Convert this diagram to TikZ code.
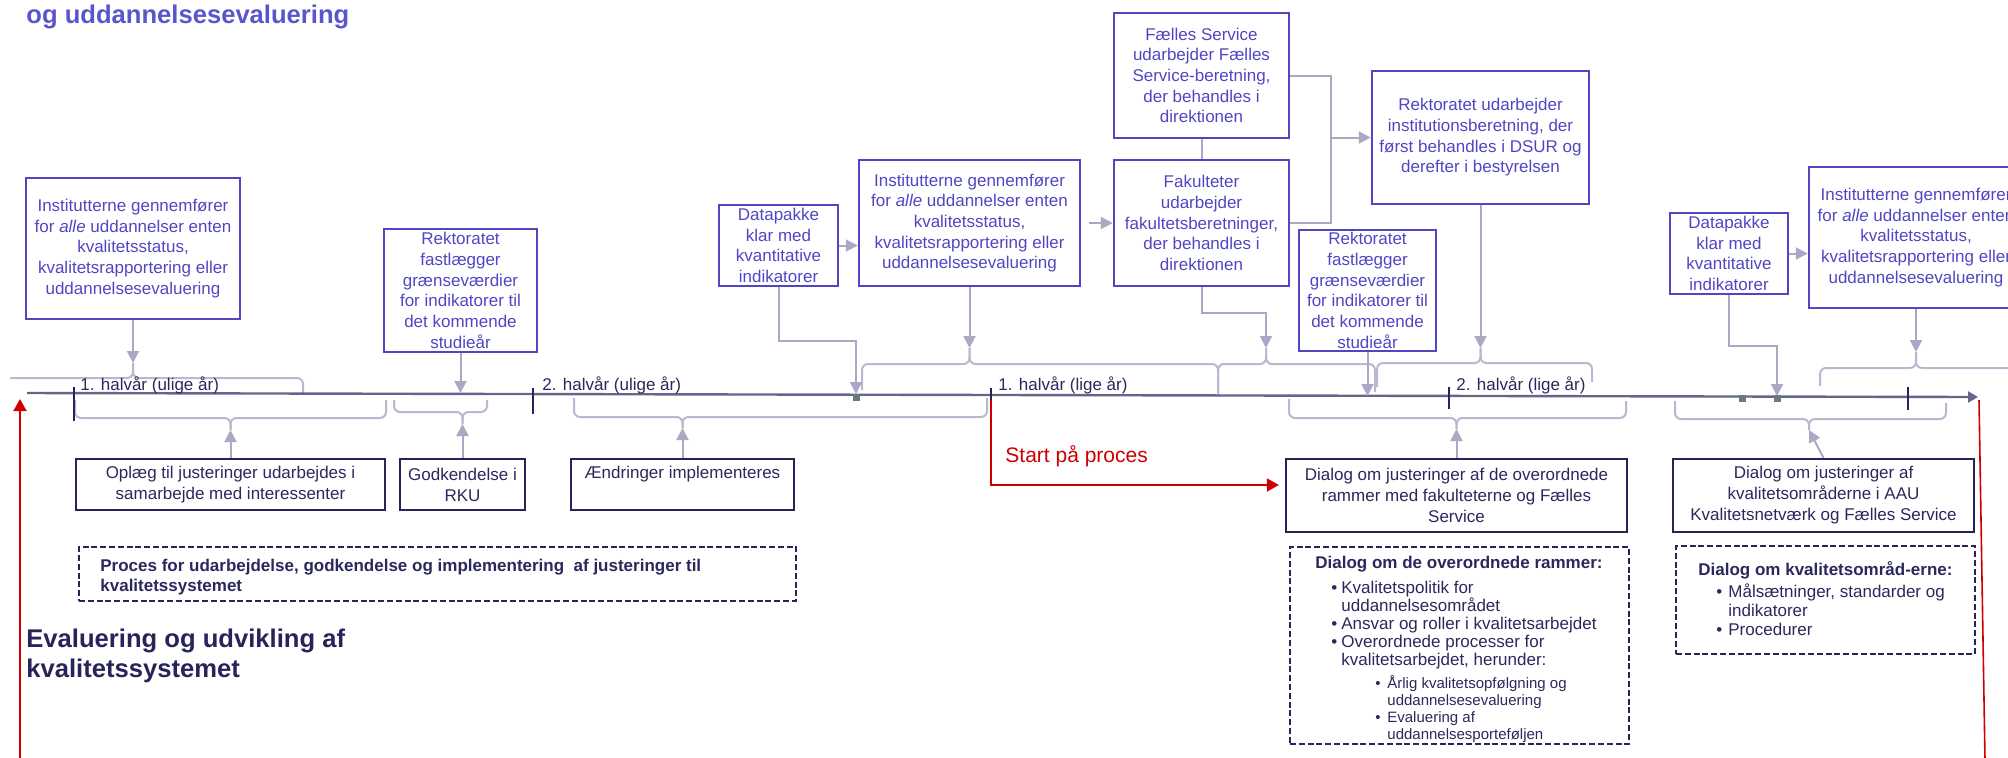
\documentclass[tikz,border=0pt]{standalone}
\usepackage{fontspec}
\setmainfont{Liberation Sans}
\usetikzlibrary{arrows.meta}
\definecolor{ublue}{RGB}{80,70,195}
\definecolor{tblue}{RGB}{92,84,205}
\definecolor{navy}{RGB}{38,36,88}
\definecolor{ntext}{RGB}{42,40,92}
\definecolor{gcol}{RGB}{170,168,196}
\definecolor{bcol}{RGB}{186,184,208}
\definecolor{tcol}{RGB}{100,100,140}
\definecolor{redc}{RGB}{205,0,0}
\definecolor{sqcol}{RGB}{105,122,124}
\newcommand\mybrace[7]{%
  \draw[brc] (#1,#2) -- (#1,#6) -- (#5,#6) -- (#5,#7);
  \draw[brc] (#3,#4) -- (#3,#6) -- (#5,#6) -- (#5,#7);}
\tikzset{
  ubox/.style={draw=ublue, line width=1.25pt, text=ublue, align=center, inner sep=0pt,
    font=\fontsize{8.5}{10.35}\selectfont},
  lbox/.style={draw=navy, line width=1.1pt, text=ntext, align=center, inner sep=0pt,
    font=\fontsize{8.5}{10.5}\selectfont},
  dbox/.style={draw=navy, line width=1.1pt, dash pattern=on 3pt off 1.4pt, inner sep=0pt},
  gline/.style={draw=gcol, line width=1pt},
  garrow/.style={gline, -{Triangle[width=6pt,length=6pt]}},
  brc/.style={draw=bcol, line width=1pt, rounded corners=3pt},
  timeline/.style={draw=tcol, line width=1.2pt, -{Triangle[width=5.5pt,length=5pt]}},
  tickmark/.style={draw=navy, line width=0.7pt},
  redl/.style={draw=redc, line width=0.8pt},
  reda/.style={redl, -{Triangle[width=6.5pt,length=6pt]}},
  marksq/.style={fill=sqcol, minimum size=3.5pt, inner sep=0pt},
  lbl/.style={text=ntext, anchor=base west, inner sep=0pt, font=\fontsize{8.5}{10}\selectfont},
  dtxt/.style={text=ntext, anchor=base west, inner sep=0pt, font=\fontsize{8.5}{10}\selectfont},
  dsub/.style={text=ntext, anchor=base west, inner sep=0pt, font=\fontsize{7.5}{9}\selectfont},
}
\begin{document}
\begin{tikzpicture}[x=0.5pt,y=-0.5pt]
\useasboundingbox (0,0) rectangle (2008,757);
\clip (0,0) rectangle (2008,757);

% titles
\node[anchor=base west, inner sep=0pt, text=tblue, font=\fontsize{12.8}{15}\selectfont\bfseries] (title) at (26,23) {og uddannelsesevaluering};
\node[anchor=base west, inner sep=0pt, text=navy, font=\fontsize{12.8}{15}\selectfont\bfseries] (ev1) at (26,647) {Evaluering og udvikling af};
\node[anchor=base west, inner sep=0pt, text=navy, font=\fontsize{12.8}{15}\selectfont\bfseries] (ev2) at (26,677) {kvalitetssystemet};

% upper boxes
\node[ubox, minimum width=107pt, minimum height=70.5pt] (instA) at (133,248.5) {Institutterne gennemfører\\for \textit{alle} uddannelser enten\\kvalitetsstatus,\\kvalitetsrapportering eller\\uddannelsesevaluering};
\node[ubox, minimum width=76.5pt, minimum height=61.5pt] (rekB) at (460.5,290.5) {Rektoratet\\fastlægger\\grænseværdier\\for indikatorer til\\det kommende\\studieår};
\node[ubox, minimum width=59.5pt, minimum height=40.5pt] (dp1) at (778.5,245.5) {Datapakke\\klar med\\kvantitative\\indikatorer};
\node[ubox, minimum width=110.5pt, minimum height=63pt] (inst2) at (969.5,223) {Institutterne gennemfører\\for \textit{alle} uddannelser enten\\kvalitetsstatus,\\kvalitetsrapportering eller\\uddannelsesevaluering};
\node[ubox, minimum width=87.5pt, minimum height=62.5pt] (fs) at (1201.5,75.5) {Fælles Service\\udarbejder Fælles\\Service-beretning,\\der behandles i\\direktionen};
\node[ubox, minimum width=87.5pt, minimum height=63pt] (fak) at (1201.5,223) {Fakulteter\\udarbejder\\fakultetsberetninger,\\der behandles i\\direktionen};
\node[ubox, minimum width=108.5pt, minimum height=66.5pt] (ri) at (1480.5,137.5) {Rektoratet udarbejder\\institutionsberetning, der\\først behandles i DSUR og\\derefter i bestyrelsen};
\node[ubox, minimum width=68.5pt, minimum height=60.5pt] (rek2) at (1367.5,290.5) {Rektoratet\\fastlægger\\grænseværdier\\for indikatorer til\\det kommende\\studieår};
\node[ubox, minimum width=59pt, minimum height=40.5pt] (dp2) at (1729,253.5) {Datapakke\\klar med\\kvantitative\\indikatorer};
\node[ubox, minimum width=107pt, minimum height=70.5pt] (inst3) at (1916,237.5) {Institutterne gennemfører\\for \textit{alle} uddannelser enten\\kvalitetsstatus,\\kvalitetsrapportering eller\\uddannelsesevaluering};

% lower boxes
\node[lbox, minimum width=154.5pt, minimum height=25.5pt] (opl) at (230.5,484.5) {Oplæg til justeringer udarbejdes i\\samarbejde med interessenter};
\node[lbox, minimum width=62.5pt, minimum height=25.5pt] (godk) at (462.5,484.5) {Godkendelse i\\RKU};
\node[lbox, minimum width=111.5pt, minimum height=25.5pt] (aendr) at (682.5,484.5) {Ændringer implementeres\\\phantom{Ag}};
\node[lbox, minimum width=170.5pt, minimum height=36.5pt] (dia1) at (1456.5,495.5) {Dialog om justeringer af de overordnede\\rammer med fakulteterne og Fælles\\Service};
\node[lbox, minimum width=150.5pt, minimum height=36.5pt] (dia2) at (1823.5,495.5) {Dialog om justeringer af\\kvalitetsområderne i AAU\\Kvalitetsnetværk og Fælles Service};

% dashed boxes
\node[dbox, minimum width=358.5pt, minimum height=27pt] (proc) at (437.5,574) {};
\node[dbox, minimum width=169.5pt, minimum height=98.5pt] (dd1) at (1459.5,645.5) {};
\node[dbox, minimum width=149.5pt, minimum height=54pt] (dd2) at (1825.5,600) {};

\node[dtxt, font=\fontsize{8.5}{10}\selectfont\bfseries] (pt1) at (100,571) {Proces for udarbejdelse, godkendelse og implementering \ af justeringer til};
\node[dtxt, font=\fontsize{8.5}{10}\selectfont\bfseries] (pt2) at (100,591) {kvalitetssystemet};

\node[dtxt, font=\fontsize{8.5}{10}\selectfont\bfseries] (a0) at (1315,568) {Dialog om de overordnede rammer:};
\node[dtxt] (a1) at (1331,593) {\makebox[5pt][l]{•}Kvalitetspolitik for};
\node[dtxt] (a2) at (1341,611) {uddannelsesområdet};
\node[dtxt] (a3) at (1331,629) {\makebox[5pt][l]{•}Ansvar og roller i kvalitetsarbejdet};
\node[dtxt] (a4) at (1331,647) {\makebox[5pt][l]{•}Overordnede processer for};
\node[dtxt] (a5) at (1341,665) {kvalitetsarbejdet, herunder:};
\node[dsub] (a6) at (1375,688) {\makebox[6pt][l]{•}Årlig kvalitetsopfølgning og};
\node[dsub] (a7) at (1387,705) {uddannelsesevaluering};
\node[dsub] (a8) at (1375,722) {\makebox[6pt][l]{•}Evaluering af};
\node[dsub] (a9) at (1387,739) {uddannelsesporteføljen};

\node[dtxt, font=\fontsize{8.5}{10}\selectfont\bfseries] (b0) at (1698,575) {Dialog om kvalitetsområd-erne:};
\node[dtxt] (b1) at (1716,597) {\makebox[6pt][l]{•}Målsætninger, standarder og};
\node[dtxt] (b2) at (1728,616) {indikatorer};
\node[dtxt] (b3) at (1716,635) {\makebox[6pt][l]{•}Procedurer};

% brace tips
\coordinate (u1) at (133,363);
\coordinate (u2) at (969.5,348);
\coordinate (u3) at (1266,348);
\coordinate (u4) at (1480.5,348);
\coordinate (u5) at (1916,352);
\coordinate (l1) at (230.5,430);
\coordinate (l2) at (462.5,424);
\coordinate (l3) at (682.5,428);
\coordinate (l4) at (1456.5,429);
\coordinate (l5) at (1809,430);

% braces
\draw[brc] (10,378) -- (133,378) -- (u1);
\draw[brc] (303,393) -- (303,378) -- (133,378) -- (u1);
\mybrace{862}{390}{1218}{395}{969.5}{364}{348}
\mybrace{1218}{395}{1375}{392}{1266}{364}{348}
\mybrace{1377}{387}{1592}{382}{1480.5}{363}{348}
\draw[brc] (1820,386) -- (1820,368) -- (1916,368) -- (u5);
\draw[brc] (2030,368) -- (1916,368) -- (u5);
\mybrace{75}{400}{386}{400}{230.5}{418}{430}
\mybrace{394}{400}{487}{400}{462.5}{412}{424}
\mybrace{574}{398}{987}{398}{682.5}{417}{428}
\mybrace{1289}{399}{1626}{401}{1456.5}{418}{429}
\mybrace{1675}{401}{1946}{403}{1809}{419}{430}

% timeline
\coordinate (tl0) at (27,393);
\coordinate (tl1) at (1978,397);
\draw[timeline] (tl0) -- (tl1);
\draw[tickmark] (74,387) -- (74,421);
\draw[tickmark] (533,388) -- (533,414);
\draw[tickmark] (991,388) -- (991,410);
\draw[tickmark] (1449,387) -- (1449,409);
\draw[tickmark] (1908,387) -- (1908,410);

\node[lbl] (h1) at (80,390) {1. halvår (ulige år)};
\node[lbl] (h2) at (542,390) {2. halvår (ulige år)};
\node[lbl] (h3) at (998,390) {1. halvår (lige år)};
\node[lbl] (h4) at (1456,390) {2. halvår (lige år)};

% connectors
\coordinate (t1) at (460.5,393);
\coordinate (t2) at (856,394);
\coordinate (t3) at (1367.5,396);
\coordinate (t4) at (1777,396);
\draw[garrow] (instA.south) -- (u1);
\draw[garrow] (inst2.south) -- (u2);
\draw[garrow] (fak.south) -- ++(0,26) -| (u3);
\draw[garrow] (ri.south) -- (u4);
\draw[garrow] (inst3.south) -- (u5);
\draw[garrow] (opl.north) -- (l1);
\draw[garrow] (godk.north) -- (l2);
\draw[garrow] (aendr.north) -- (l3);
\draw[garrow] (dia1.north) -- (l4);
\draw[garrow] (dia2.north) -- (l5);
\draw[garrow] (rekB.south) -- (t1);
\draw[garrow] (dp1.south) -- ++(0,54) -| (t2);
\draw[garrow] (rek2.south) -- (t3);
\draw[garrow] (dp2.south) -- ++(0,51) -| (t4);
\draw[garrow] (dp1.east) -- (dp1.east -| inst2.west);
\draw[garrow] ([xshift=4pt]inst2.east) -- (fak.west);
\draw[garrow] (dp2.east) -- (dp2.east -| inst3.west);
\draw[gline] (fs.south) -- (fak.north);
\draw[gline] (fs.east) -- ++(41,0) |- (fak.east);
\coordinate (jn) at (1330,137.5);
\draw[garrow] (jn) -- (ri.west);

\node[marksq] (sq1) at (856,397) {};
\node[marksq] (sq2) at (1742,398) {};
\node[marksq] (sq3) at (1777,398) {};

% red
\coordinate (rb) at (20,760);
\coordinate (rt) at (20,399);
\draw[reda] (rb) -- (rt);
\coordinate (rs) at (991,400);
\draw[reda] (rs) |- ([xshift=-3pt,yshift=5.25pt]dia1.west);
\coordinate (re0) at (1979,400);
\coordinate (re1) at (1985,760);
\draw[redl] (re0) -- (re1);
\node[anchor=base west, inner sep=0pt, text=redc, font=\fontsize{10.5}{12}\selectfont] (start) at (1005,462) {Start på proces};
\end{tikzpicture}
\end{document}
